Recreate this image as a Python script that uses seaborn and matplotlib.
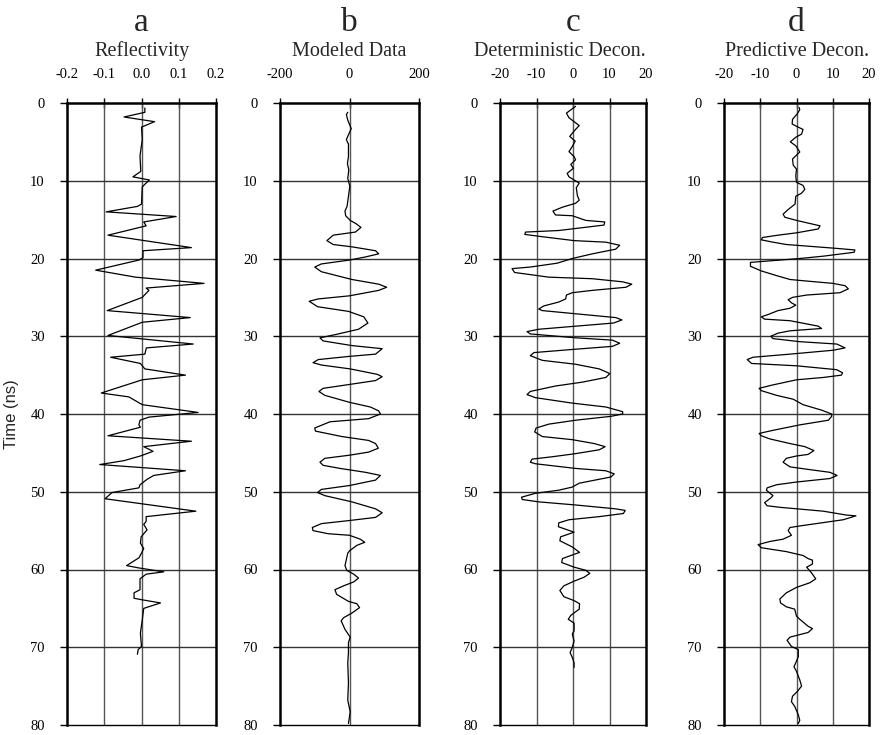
import matplotlib
matplotlib.use("Agg")
import matplotlib.pyplot as plt
import seaborn as sns
import numpy as np

# ---------------- data ----------------
a_time = [0.64, 1.2, 1.8, 2.4, 3.1, 4.7, 6.8, 8.8, 9.5, 9.9, 10.5, 10.8, 13.0, 13.3, 14.0, 14.6, 15.3, 15.8,
          17.0, 18.6, 19.0, 19.9, 20.2, 21.5, 22.4, 23.2, 23.8, 24.1, 25.0, 26.7, 27.6, 28.2, 29.9, 31.0,
          31.5, 32.3, 32.7, 33.5, 34.2, 35.0, 35.6, 37.3, 37.8, 38.8, 39.8, 40.4, 40.8, 41.4, 41.7, 42.8,
          43.5, 44.2, 44.8, 45.4, 46.0, 46.5, 47.3, 47.9, 48.4, 49.1, 49.5, 50.1, 50.9, 52.5, 53.2, 53.8,
          54.2, 54.9, 55.8, 56.6, 57.3, 57.9, 58.5, 59.5, 59.8, 60.3, 60.6, 61.2, 62.6, 63.0, 63.7, 63.9,
          64.3, 65.0, 66.5, 68.2, 69.9, 70.3, 70.9]
a_val = [0.009, 0.009, -0.047, 0.035, 0.0, 0.002, -0.004, -0.002, -0.023, 0.021, 0.008, 0.002, 0.0, -0.011,
         -0.095, 0.093, 0.006, 0.0125, -0.09, 0.134, 0.004, 0.004, -0.007, -0.123, -0.016, 0.168, 0.0125,
         0.02, 0.002, -0.092, 0.131, 0.002, -0.09, 0.139, 0.013, 0.009, -0.083, -0.003, 0.009, 0.118, 0.002,
         -0.108, -0.034, 0.002, 0.152, 0.02, -0.004, -0.007, -0.003, -0.09, 0.134, 0.006, 0.031, -0.003,
         -0.047, -0.112, 0.118, 0.033, 0.015, -0.004, -0.007, -0.079, -0.098, 0.146, 0.0125, 0.0125, 0.006,
         0.015, -0.001, -0.003, 0.006, 0.0, -0.007, -0.04, -0.007, 0.06, 0.0125, -0.004, -0.004, -0.02,
         -0.02, 0.002, 0.051, 0.006, 0.002, -0.003, 0.0, -0.009, -0.011]

b_time = [1.2, 1.5, 2.2, 3.3, 4.1, 4.7, 5.3, 6.9, 7.8, 8.6, 9.7, 10.7, 12.0, 13.3, 13.9, 14.5, 15.1, 15.5,
          16.0, 16.6, 17.0, 17.7, 18.2, 18.5, 19.0, 19.4, 19.8, 20.2, 20.7, 21.1, 21.7, 22.7, 23.3, 23.7,
          24.1, 24.8, 25.2, 25.5, 26.2, 26.8, 27.5, 28.3, 29.1, 29.8, 30.2, 30.6, 31.2, 31.6, 32.3, 32.6,
          33.0, 33.4, 33.7, 34.2, 34.9, 35.2, 35.7, 36.2, 36.7, 37.1, 37.6, 38.5, 39.1, 39.6, 40.0, 40.6,
          41.0, 41.8, 42.2, 42.9, 43.4, 43.8, 44.4, 44.9, 45.3, 45.7, 46.2, 46.6, 47.0, 47.5, 47.9, 48.5,
          49.2, 49.7, 50.1, 50.5, 51.3, 52.2, 52.7, 53.3, 53.7, 54.1, 54.6, 55.0, 55.4, 55.6, 56.1, 56.5,
          56.9, 57.6, 57.9, 59.5, 60.1, 60.6, 61.1, 61.6, 62.1, 62.6, 63.2, 64.1, 64.4, 64.9, 65.6, 66.2,
          66.6, 67.7, 68.7, 69.4, 70.7, 72.0, 74.6, 76.8, 78.3, 79.8]
b_val = [-5, -9, -5, 5, -3, -9, -3, -3, -6, -2, -5, 1, -3, -7, -13, -11, 2, 18, 33, 17, -47, -65, -47, 7,
         75, 84, 46, 0, -81, -100, -81, 7, 84, 107, 84, 0, -90, -116, -92, -3, 41, 53, 26, -42, -85, -76,
         7, 94, 75, -3, -90, -105, -81, 2, 80, 94, 75, 0, -76, -88, -71, 0, 60, 84, 89, 55, -56, -100, -98,
         -22, 55, 75, 83, 55, 0, -71, -85, -76, -27, 46, 89, 75, 0, -81, -92, -71, 7, 75, 94, 75, 0, -81,
         -107, -105, -61, 0, 31, 44, 21, 0, -5, -13, -8, 12, 26, 12, -17, -42, -37, -3, 21, 29, 7, -17,
         -24, -13, 2, -3, -3, -5, -3, -5, 2, -3]

c_time = [0.43, 1.3, 1.9, 2.4, 2.9, 3.6, 4.3, 4.9, 5.6, 6.25, 6.9, 7.3, 7.9, 8.4, 9.05, 9.5, 9.9, 10.3,
          10.9, 11.9, 12.5, 12.9, 13.4, 13.9, 14.4, 14.5, 15.1, 15.3, 15.7, 16.4, 16.6, 16.9, 17.2, 17.7,
          17.9, 18.3, 18.8, 19.4, 20.0, 20.6, 21.1, 21.3, 21.8, 22.4, 22.6, 23.0, 23.3, 23.7, 24.1, 24.4,
          24.7, 25.2, 25.6, 26.1, 26.5, 26.7, 27.2, 27.6, 27.9, 28.3, 28.7, 29.1, 29.4, 29.7, 30.2, 30.5,
          30.9, 31.3, 31.7, 32.1, 32.5, 33.1, 33.6, 34.2, 34.8, 35.3, 35.9, 36.4, 37.1, 37.5, 37.9, 38.6,
          39.1, 39.7, 40.0, 40.3, 40.8, 41.3, 41.8, 42.3, 42.9, 43.3, 43.8, 44.2, 44.6, 45.1, 45.5, 45.8,
          46.2, 46.4, 47.0, 47.3, 47.7, 48.1, 48.9, 49.4, 49.8, 50.2, 50.7, 51.0, 51.3, 51.7, 52.2, 52.4,
          52.8, 53.2, 53.6, 54.0, 54.5, 55.2, 55.8, 56.3, 57.1, 57.8, 58.2, 58.6, 59.1, 59.7, 60.1, 60.5,
          61.0, 61.5, 62.1, 62.7, 63.5, 64.0, 64.4, 65.1, 65.9, 66.4, 66.9, 67.9, 68.3, 69.2, 70.0, 70.7,
          71.3, 72.0, 72.6]
c_val = [0.7, -1.8, -1.1, 0.3, 1.7, 0.3, -0.9, 0.6, -0.2, -1.1, 0.3, 0.7, -0.6, 0.1, -1.6, -1.1, 0.3, 1.7,
         0.9, 1.2, 1.7, 0.7, -2.9, -5.5, -4.8, -0.2, 3.5, 8.7, 8.5, -3.9, -13.0, -13.2, -8.4, 0.3, 9.0, 12.8,
         11.7, 5.3, -0.2, -4.3, -11.7, -16.7, -16.0, -6.6, 5.3, 13.6, 16.1, 14.5, 5.3, -0.2, -1.8, -2.0,
         -3.9, -8.0, -9.4, -8.4, 2.6, 11.7, 13.4, 11.1, 0.7, -9.4, -12.6, -11.7, 0.7, 10.8, 12.8, 10.8,
         -0.2, -10.7, -11.7, -8.4, 0.7, 7.2, 10.1, 9.0, 2.6, -4.8, -11.7, -12.6, -10.3, -0.2, 9.0, 13.6,
         13.6, 10.4, 0.7, -6.6, -10.1, -10.5, -8.4, -0.2, 5.8, 8.8, 7.2, 0.7, -5.7, -11.2, -11.7, -10.3,
         0.7, 9.0, 11.3, 10.4, 1.7, -0.2, -3.9, -10.3, -14.1, -13.9, -9.4, 0.7, 11.7, 14.3, 13.8, 7.2, -1.1,
         -3.9, -4.0, 0.3, -3.4, -3.6, -0.2, 1.8, -0.6, -2.9, -3.1, 0.3, 3.5, 4.6, 3.0, 0.3, -2.5, -3.6,
         -2.5, 0.3, 1.8, 1.7, -0.6, -1.3, 0.3, 0.3, -0.2, 0.3, -0.2, -0.8, -0.2, 0.3, 0.3]

d_time = [0.56, 0.86, 1.4, 2.1, 2.7, 3.0, 3.4, 4.0, 4.4, 5.0, 5.5, 6.3, 6.8, 7.2, 8.0, 8.5, 9.4, 10.2, 10.6,
          11.1, 11.6, 12.0, 13.0, 13.7, 14.3, 14.7, 15.1, 15.6, 15.8, 16.2, 16.7, 17.0, 17.3, 17.6, 17.9,
          18.2, 18.5, 18.7, 18.9, 19.2, 19.7, 20.0, 20.3, 20.5, 21.0, 21.6, 22.2, 22.7, 22.9, 23.2, 23.5,
          23.9, 24.4, 24.7, 25.0, 25.3, 25.7, 26.0, 26.4, 26.7, 27.2, 27.5, 27.8, 28.0, 28.7, 29.0, 29.3,
          29.6, 30.0, 30.3, 30.7, 31.0, 31.5, 31.8, 32.3, 32.7, 33.0, 33.5, 33.8, 34.3, 34.7, 35.0, 35.3,
          35.6, 36.3, 36.7, 37.0, 37.6, 38.1, 38.8, 39.5, 40.0, 40.3, 40.8, 41.4, 42.1, 42.5, 42.8, 43.2,
          43.8, 44.2, 44.7, 45.2, 45.4, 45.7, 46.2, 46.8, 47.1, 47.5, 47.9, 48.3, 48.75, 49.1, 49.5, 49.8,
          50.5, 50.8, 51.4, 51.8, 52.0, 52.5, 53.0, 53.1, 53.6, 54.4, 54.6, 55.0, 55.6, 56.1, 56.4, 56.8,
          57.2, 57.7, 58.2, 58.6, 58.8, 59.3, 59.7, 60.4, 61.2, 61.7, 62.3, 63.0, 63.8, 64.3, 64.8, 65.1,
          66.0, 66.4, 67.3, 67.6, 68.1, 68.7, 69.1, 69.9, 70.3, 71.2, 72.0, 72.5, 73.1, 74.2, 75.0, 75.7,
          76.3, 77.0, 77.6, 78.7, 79.4, 79.8]
d_val = [0.7, 0.9, 0.2, -1.1, -1.2, 0.0, 1.8, 1.4, -0.2, -1.7, -0.2, 0.9, -0.2, -1.1, -0.9, 0.0, -0.2, 0.0,
         1.8, 2.3, 1.4, -0.2, -0.4, -2.3, -3.7, -3.2, 0.0, 4.6, 6.5, 6.0, 0.0, -5.1, -9.4, -9.7, -6.5, -2.8,
         5.5, 11.1, 16.1, 15.9, 7.4, 0.9, -7.4, -12.7, -12.7, -9.7, -5.5, -1.8, 2.8, 10.1, 13.4, 14.3, 12.0,
         2.8, -1.1, -2.3, -1.4, -0.2, -1.8, -5.1, -7.8, -9.7, -8.8, -1.8, 6.0, 6.9, -1.8, -5.1, -7.1, -6.5,
         0.9, 11.1, 13.4, 10.1, -1.8, -12.0, -13.6, -12.4, 0.0, 11.1, 12.7, 12.4, 7.4, 0.0, -6.9, -10.3,
         -9.7, -5.5, -0.9, 1.8, 6.9, 9.7, 9.7, 8.8, 0.9, -6.5, -10.3, -9.7, -7.4, -1.8, 2.3, 4.8, 3.2, 0.0,
         -2.8, -3.7, -1.8, 2.8, 9.2, 11.2, 9.2, 0.0, -5.5, -8.1, -8.3, -6.5, -7.1, -8.8, -8.1, -4.6, 7.4,
         13.8, 16.4, 12.9, 0.9, -1.8, -2.3, -1.4, -3.7, -7.4, -10.6, -9.7, -2.8, 1.8, 3.2, 4.4, 4.4, 2.8,
         4.1, 5.3, 3.7, 0.0, -2.8, -4.6, -4.4, -2.8, -0.5, 0.0, 0.9, 3.2, 4.4, 3.2, -1.8, -2.6, -1.4, 0.5,
         0.5, -0.2, -0.7, 0.0, 0.9, 1.4, 0.2, -1.1, -1.4, -0.5, 0.5, 0.9, 0.5]

letters = ["a", "b", "c", "d"]
subtitles = ["Reflectivity", "Modeled Data", "Deterministic Decon.", "Predictive Decon."]
x_ticks = [[-0.2, -0.1, 0.0, 0.1, 0.2], [-200, 0, 200], [-20, -10, 0, 10, 20], [-20, -10, 0, 10, 20]]
x_ticklabels = [["-0.2", "-0.1", "0.0", "0.1", "0.2"], ["-200", "0", "200"],
                ["-20", "-10", "0", "10", "20"], ["-20", "-10", "0", "10", "20"]]
x_grid = [[-0.1, 0.0, 0.1], [0], [-10, 0, 10], [-10, 0, 10]]
y_ticks = [0, 10, 20, 30, 40, 50, 60, 70, 80]
y_label = "Time (ns)"

# ---------------- style ----------------
sns.set_style("white")
plt.rcParams["font.family"] = ["Liberation Serif", "DejaVu Serif"]
plt.rcParams["axes.unicode_minus"] = False

W, H = 881, 735
fig = plt.figure(figsize=(W / 100, H / 100), dpi=100)

# axes pixel boxes: left, right
boxes = [(67, 216), (280, 419), (500, 646), (724, 869)]
top_px, bot_px = 103, 725
sub_x = [142, 349, 560, 797]

series = [(a_time, a_val), (b_time, b_val), (c_time, c_val), (d_time, d_val)]

for i, ((l, r), (tt, vv)) in enumerate(zip(boxes, series)):
    ax = fig.add_axes([l / W, 1 - bot_px / H, (r - l) / W, (bot_px - top_px) / H])
    for g in x_grid[i]:
        ax.axvline(g, color="#555555", lw=1.0, zorder=1)
    for g in y_ticks[1:-1]:
        ax.axhline(g, color="#333333", lw=1.0, zorder=1)
    sns.lineplot(x=vv, y=tt, sort=False, estimator=None, color="black", lw=0.9, ax=ax, zorder=3)
    lo, hi = x_ticks[i][0], x_ticks[i][-1]
    ax.set_xlim(lo, hi)
    ax.set_ylim(80, 0)
    ax.xaxis.tick_top()
    ax.set_xticks(x_ticks[i])
    ax.set_xticklabels(x_ticklabels[i])
    ax.set_yticks(y_ticks)
    ax.set_yticklabels([str(v) for v in y_ticks])
    ax.tick_params(axis="x", top=True, bottom=False, direction="inout", length=7, width=1,
                   pad=12, labelsize=10.5, colors="black")
    ax.tick_params(axis="y", left=True, right=False, direction="out", length=5, width=1,
                   pad=11, labelsize=10.5, colors="black")
    for side in ["left", "right", "top"]:
        ax.spines[side].set_visible(True)
        ax.spines[side].set_color("black")
        ax.spines[side].set_linewidth(1.8)
    ax.spines["bottom"].set_color("black")
    ax.spines["bottom"].set_linewidth(1.0)
    ax.set_xlabel("")
    ax.set_ylabel("")
    if i == 0:
        ax.set_ylabel(y_label, family=["Liberation Sans", "DejaVu Sans"], fontsize=12, labelpad=8)
    cx = (l + r) / 2 / W
    fig.text(cx, 1 - 31 / H, letters[i], ha="center", va="baseline", fontsize=24)
    fig.text(sub_x[i] / W, 1 - 56 / H, subtitles[i], ha="center", va="baseline", fontsize=14.5)

fig.savefig("out.png", dpi=100)
